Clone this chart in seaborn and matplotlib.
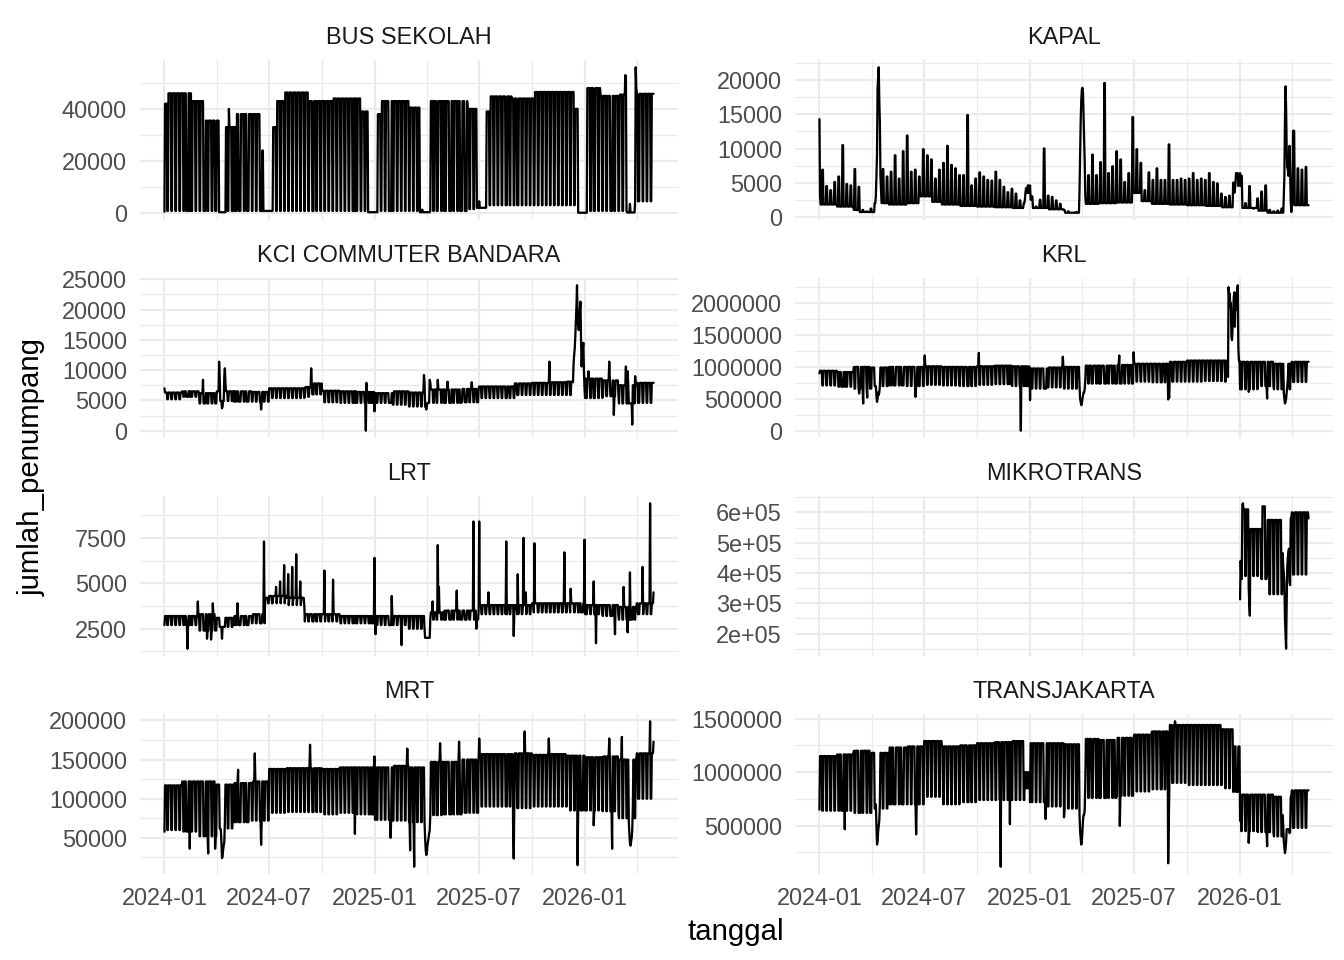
import numpy as np
import pandas as pd
import matplotlib
matplotlib.use("Agg")
import matplotlib.pyplot as plt
import matplotlib.dates as mdates
from matplotlib.ticker import FixedLocator, FuncFormatter, NullFormatter
import seaborn as sns

# ------------------------------------------------------------------ data
START, END = "2024-01-01", "2026-04-30"
MONTHS = ["2024-01", "2024-02", "2024-03", "2024-04", "2024-05", "2024-06", "2024-07",
          "2024-08", "2024-09", "2024-10", "2024-11", "2024-12", "2025-01", "2025-02",
          "2025-03", "2025-04", "2025-05", "2025-06", "2025-07", "2025-08", "2025-09",
          "2025-10", "2025-11", "2025-12", "2026-01", "2026-02", "2026-03", "2026-04"]

HOLIDAYS = [
    "2024-01-01", "2024-02-08", "2024-02-09", "2024-02-14", "2024-03-11", "2024-03-12", "2024-03-29",
    "2024-04-08", "2024-04-09", "2024-04-10", "2024-04-11", "2024-04-12", "2024-04-15", "2024-05-01",
    "2024-05-09", "2024-05-10", "2024-05-23", "2024-05-24", "2024-06-17", "2024-06-18", "2024-09-16",
    "2024-11-27", "2024-12-25", "2024-12-26",
    "2025-01-01", "2025-01-27", "2025-01-28", "2025-01-29", "2025-03-28", "2025-03-31", "2025-04-01",
    "2025-04-02", "2025-04-03", "2025-04-04", "2025-04-07", "2025-04-18", "2025-05-01", "2025-05-12",
    "2025-05-13", "2025-05-29", "2025-05-30", "2025-06-06", "2025-06-09", "2025-06-27", "2025-08-18",
    "2025-09-05", "2025-12-25", "2025-12-26",
    "2026-01-01", "2026-01-16", "2026-02-16", "2026-02-17", "2026-03-18", "2026-03-19", "2026-03-20",
    "2026-03-23", "2026-03-24", "2026-04-03"]

# BUS SEKOLAH: school-term segments (start date, weekday level, weekend level)
bus_seg_start = ["2024-01-01", "2024-01-02", "2024-01-08", "2024-02-17", "2024-03-11", "2024-04-05",
                 "2024-04-17", "2024-05-06", "2024-06-15", "2024-06-21", "2024-07-08", "2024-07-15",
                 "2024-07-29", "2024-09-07", "2024-10-19", "2024-12-07", "2024-12-20", "2025-01-06",
                 "2025-01-13", "2025-03-03", "2025-03-20", "2025-04-07", "2025-06-11", "2025-06-27",
                 "2025-07-14", "2025-07-20", "2025-08-27", "2025-10-05", "2025-12-15", "2025-12-20",
                 "2026-01-05", "2026-01-28", "2026-03-03", "2026-03-15", "2026-03-29"]
bus_wd = [2000, 42000, 46000, 43000, 35500, 300, 33000, 38000, 24000, 800, 33000, 43000,
          46300, 43000, 44000, 39000, 300, 38000, 43000, 40500, 300, 43000, 40000, 2000,
          39000, 44800, 44000, 46500, 40000, 100, 48000, 45000, 45500, 200, 45800]
bus_we = [500, 800, 800, 800, 800, 300, 800, 800, 800, 800, 800, 800,
          800, 800, 800, 800, 300, 800, 800, 800, 300, 800, 1500, 2000,
          3000, 3000, 3000, 3000, 3000, 100, 800, 800, 800, 200, 4500]
bus_events = {"2024-04-22": 40000, "2025-03-24": 1300, "2025-07-01": 4500, "2026-03-12": 53000,
              "2026-03-13": 52500, "2026-03-20": 3500, "2026-03-30": 56000, "2026-03-31": 48000}

# KAPAL: weekday level per month, Saturday/Sunday peaks per week
kapal_wd = [1800, 1500, 1000, 2000, 1800, 2000, 2200, 1800, 1600, 1500, 1400, 1300,
            1300, 1100, 700, 1900, 2000, 2100, 2300, 1900, 1800, 1700, 1600, 1400,
            1300, 900, 700, 1700]
kapal_ranges = [("2024-03-11", "2024-04-07", 700), ("2024-06-22", "2024-07-14", 3000),
                ("2025-03-01", "2025-03-27", 600), ("2025-06-28", "2025-07-13", 3500),
                ("2026-02-18", "2026-03-17", 600)]
kapal_weekend_peaks = [
    6900, 4500, 3900, 5100, 5900, 10500, 4800, 4600, 7000, 4400, 1000, 800, 1200, 2000, 21900,
    7000, 5900, 6600, 9000, 5600, 9600, 11900, 6600, 6900, 5900, 9900, 9000, 8400, 5600, 6900,
    7900, 10400, 7600, 7100, 6100, 6100, 14900, 4600, 5600, 6500, 5900, 5400, 5300, 6600, 5400,
    4400, 3600, 4100, 3400, 2400, 2000, 4600, 3000, 1500, 2500, 10000, 3100, 2900, 2400, 1900,
    1000, 800, 600, 700, 12000, 12000, 6100, 9100, 6100, 8000, 19600, 6400, 7400, 9600, 8400,
    5100, 6400, 14600, 9900, 7900, 3900, 6500, 5400, 7100, 5400, 5400, 10600, 5400, 5400, 5600,
    5400, 5600, 6400, 5400, 5600, 5400, 6400, 5100, 4900, 3400, 2900, 3100, 5000, 6400, 6000,
    2000, 4500, 1200, 2700, 3700, 4600, 1000, 800, 900, 1200, 19100, 10400, 12600, 7100, 6900,
    7300]
kapal_events = {
    "2024-01-01": 14300, "2024-01-02": 3000,
    "2024-04-08": 3000, "2024-04-09": 6000, "2024-04-10": 8900, "2024-04-11": 18900,
    "2024-04-12": 20500, "2024-04-13": 21900, "2024-04-14": 17000, "2024-04-15": 13900,
    "2024-04-16": 6000, "2024-04-17": 3900,
    "2024-12-23": 2500, "2024-12-24": 3500, "2024-12-25": 4200, "2024-12-26": 4000,
    "2024-12-27": 3500, "2024-12-30": 3500, "2024-12-31": 4000, "2025-01-01": 4600,
    "2025-01-02": 2500, "2025-01-03": 2500,
    "2025-03-28": 4000, "2025-03-29": 9000, "2025-03-30": 14000, "2025-03-31": 17000,
    "2025-04-01": 18600, "2025-04-02": 18900, "2025-04-03": 18200, "2025-04-04": 15000,
    "2025-04-05": 12000, "2025-04-06": 8000, "2025-04-07": 3000,
    "2025-12-22": 3500, "2025-12-23": 4000, "2025-12-24": 5000, "2025-12-25": 6400,
    "2025-12-26": 6000, "2025-12-29": 4500, "2025-12-30": 5000, "2025-12-31": 5500,
    "2026-01-01": 6400, "2026-01-02": 4500,
    "2026-03-18": 3000, "2026-03-19": 6000, "2026-03-20": 14000, "2026-03-21": 19100,
    "2026-03-22": 16000, "2026-03-23": 10000, "2026-03-24": 7200, "2026-03-25": 7000,
    "2026-03-26": 6000, "2026-03-27": 8000, "2026-03-28": 10400, "2026-03-29": 7000,
    "2026-03-30": 2500, "2026-04-03": 12600}

# KCI COMMUTER BANDARA
kci_wd = [6300, 6500, 6200, 6500, 6500, 6400, 7000, 7000, 7200, 6600, 6500, 6400,
          6200, 6500, 6300, 6800, 6800, 6900, 7300, 7300, 7800, 7900, 8000, 8100,
          8600, 8300, 7500, 7900]
kci_we = [5200, 5600, 4500, 4900, 4800, 4800, 5400, 5400, 5600, 4700, 4600, 4600,
          4600, 4300, 4000, 4600, 4600, 4700, 5400, 5400, 5900, 5900, 5900, 5900,
          5400, 5700, 4500, 4600]
kci_ranges = [("2024-09-13", "2024-09-30", 7800, 6000)]
kci_events = {
    "2024-01-01": 7000, "2024-03-08": 8400, "2024-04-05": 11400, "2024-04-06": 9000,
    "2024-04-10": 3700, "2024-04-11": 4000, "2024-04-14": 9000, "2024-04-15": 10300,
    "2024-04-16": 8000, "2024-06-17": 3500, "2024-09-12": 10300, "2024-12-16": 0,
    "2024-12-17": 7900, "2024-12-31": 3200, "2025-03-27": 9200, "2025-03-28": 8000,
    "2025-03-31": 3500, "2025-04-01": 4000, "2025-04-06": 8400, "2025-04-07": 8000,
    "2025-04-20": 8400, "2025-05-07": 8100, "2025-06-18": 8000, "2025-10-31": 11400,
    "2025-12-11": 8000, "2025-12-12": 11000, "2025-12-13": 12500, "2025-12-14": 13500,
    "2025-12-15": 15500, "2025-12-16": 18000, "2025-12-17": 20500, "2025-12-18": 24000,
    "2025-12-19": 19000, "2025-12-20": 17500, "2025-12-21": 16600, "2025-12-22": 18000,
    "2025-12-23": 20000, "2025-12-24": 21300, "2025-12-25": 15000, "2025-12-26": 10600,
    "2025-12-27": 12500, "2025-12-28": 13500, "2025-12-29": 14500, "2025-12-30": 10000,
    "2025-12-31": 7000, "2026-01-07": 9800, "2026-02-12": 11400, "2026-02-20": 2600,
    "2026-03-13": 10600, "2026-03-16": 9800, "2026-03-24": 1000, "2026-03-29": 9000}

# KRL
krl_wd = [940000, 920000, 1000000, 990000, 1000000, 1000000, 1010000, 1000000, 1000000,
          1010000, 1020000, 1010000, 975000, 990000, 1000000, 1020000, 1020000, 1030000,
          1050000, 1050000, 1080000, 1100000, 1100000, 1100000, 1080000, 1080000, 1050000,
          1080000]
krl_we = [710000, 690000, 660000, 700000, 710000, 700000, 720000, 710000, 700000,
          720000, 730000, 700000, 660000, 680000, 660000, 740000, 740000, 740000,
          770000, 760000, 770000, 770000, 780000, 770000, 650000, 700000, 650000,
          765000]
krl_events = {
    "2024-01-01": 900000, "2024-03-10": 583000, "2024-03-17": 427000, "2024-03-24": 520000,
    "2024-04-08": 700000, "2024-04-09": 550000, "2024-04-10": 453000, "2024-04-11": 500000,
    "2024-04-12": 600000, "2024-04-13": 560000, "2024-04-14": 600000, "2024-04-15": 700000,
    "2024-06-16": 531000, "2024-07-02": 1180000, "2024-10-04": 1220000, "2024-12-16": 0,
    "2024-12-31": 1000000, "2025-01-01": 480000, "2025-02-27": 1160000,
    "2025-03-28": 700000, "2025-03-29": 500000, "2025-03-30": 450000, "2025-03-31": 400000,
    "2025-04-01": 420000, "2025-04-02": 500000, "2025-04-03": 550000, "2025-04-04": 600000,
    "2025-04-05": 600000, "2025-04-06": 650000, "2025-04-07": 800000,
    "2025-06-05": 1180000, "2025-06-30": 1230000, "2025-08-29": 490000, "2025-08-30": 560000,
    "2025-08-31": 520000, "2025-12-11": 843000,
    "2025-12-12": 2250000, "2025-12-13": 2120000, "2025-12-14": 2150000, "2025-12-15": 1940000,
    "2025-12-16": 2000000, "2025-12-17": 1470000, "2025-12-18": 1420000, "2025-12-19": 1600000,
    "2025-12-20": 1800000, "2025-12-21": 2090000, "2025-12-22": 2170000, "2025-12-23": 1630000,
    "2025-12-24": 2100000, "2025-12-25": 2150000, "2025-12-26": 1900000, "2025-12-27": 2200000,
    "2025-12-28": 2280000, "2025-12-29": 1300000, "2025-12-30": 1100000,
    "2026-01-16": 609000, "2026-02-17": 505000, "2026-03-18": 600000, "2026-03-19": 500000,
    "2026-03-20": 427000, "2026-03-21": 450000, "2026-03-22": 500000, "2026-03-23": 600000,
    "2026-03-24": 700000, "2026-03-25": 800000}

# LRT
lrt_wd = [3200, 3200, 3300, 3100, 3200, 3300, 4300, 4200, 3300, 3300, 3200, 3200,
          3200, 3200, 3200, 3400, 3500, 3500, 3800, 3800, 3800, 3900, 3900, 3900,
          3800, 3800, 3700, 3900]
lrt_we = [2700, 2700, 2400, 2600, 2700, 2800, 3900, 3800, 2900, 2900, 2800, 2800,
          2700, 2700, 2500, 3000, 3000, 3000, 3300, 3300, 3300, 3400, 3400, 3400,
          3300, 3200, 3000, 3300]
lrt_ranges = [("2024-06-24", "2024-06-30", 4200, 3900), ("2025-03-29", "2025-04-06", 2100, 2000)]
lrt_events = {
    "2024-02-10": 1400, "2024-02-28": 4000, "2024-03-15": 1950, "2024-03-22": 1900,
    "2024-03-25": 3900, "2024-04-10": 1950, "2024-05-07": 3900, "2024-06-22": 7300,
    "2024-07-13": 4800, "2024-07-20": 5100, "2024-07-27": 6000, "2024-08-03": 5500,
    "2024-08-10": 5900, "2024-08-17": 6600, "2024-08-24": 5100, "2024-10-05": 5700,
    "2024-10-20": 5200, "2024-12-31": 6400, "2025-01-02": 2200, "2025-01-30": 4300,
    "2025-02-16": 1600, "2025-04-11": 4000, "2025-04-20": 7100, "2025-04-22": 4800,
    "2025-05-23": 4600, "2025-06-21": 8400, "2025-06-26": 2500, "2025-07-01": 8400,
    "2025-07-17": 4500, "2025-08-17": 7300, "2025-08-30": 2100, "2025-09-06": 5500,
    "2025-09-16": 7500, "2025-09-20": 4500, "2025-10-05": 7200, "2025-11-26": 6700,
    "2025-12-07": 4700, "2025-12-31": 7400, "2026-01-16": 5100, "2026-01-20": 1700,
    "2026-02-22": 2200, "2026-03-09": 4800, "2026-03-16": 2300, "2026-03-20": 5600,
    "2026-04-11": 5900, "2026-04-24": 9400, "2026-04-30": 4500}

# MIKROTRANS (data start 2026-01)
mikro_wd = [610000, 600000, 580000, 600000]
mikro_we = [390000, 380000, 330000, 395000]
mikro_ranges = [("2026-01-19", "2026-02-06", 545000, 390000),
                ("2026-02-09", "2026-02-13", 620000, 380000),
                ("2026-02-18", "2026-03-15", 575000, 330000)]
mikro_events = {
    "2026-01-01": 313000, "2026-01-02": 440000, "2026-01-03": 390000, "2026-01-04": 380000,
    "2026-01-05": 625000, "2026-01-06": 630000, "2026-01-16": 350000, "2026-01-17": 300000,
    "2026-01-18": 259000, "2026-02-17": 400000, "2026-03-16": 466000, "2026-03-17": 420000,
    "2026-03-18": 400000, "2026-03-19": 370000, "2026-03-20": 250000, "2026-03-21": 200000,
    "2026-03-22": 150000, "2026-03-23": 300000, "2026-03-24": 420000, "2026-03-25": 450000,
    "2026-03-26": 470000, "2026-03-27": 480000, "2026-03-28": 370000, "2026-03-29": 360000,
    "2026-04-30": 580000}

# MRT
mrt_wd = [117000, 122000, 122000, 118000, 120000, 122000, 138000, 139000, 139000, 138000,
          140000, 140000, 140000, 142000, 140000, 147000, 147000, 150000, 157000, 157000,
          158000, 156000, 157000, 155000, 153000, 154000, 150000, 158000]
mrt_we = [60000, 58000, 52000, 62000, 70000, 72000, 82000, 83000, 83000, 80000,
          82000, 80000, 73000, 72000, 70000, 79000, 80000, 82000, 90000, 90000,
          88000, 90000, 90000, 85000, 85000, 84000, 75000, 100000]
mrt_events = {
    "2024-01-01": 57700, "2024-02-14": 36000, "2024-03-17": 30000, "2024-03-29": 36000,
    "2024-04-08": 60000, "2024-04-09": 45000, "2024-04-10": 24000, "2024-04-11": 26000,
    "2024-04-12": 35000, "2024-04-13": 40000, "2024-04-14": 45000, "2024-04-15": 70000,
    "2024-05-08": 137000, "2024-06-06": 158000, "2024-06-17": 41000, "2024-09-10": 169000,
    "2024-11-27": 55000, "2024-12-31": 154000, "2025-01-28": 50000, "2025-02-26": 164000,
    "2025-03-03": 34000, "2025-03-10": 13000, "2025-03-29": 50000, "2025-03-30": 35000,
    "2025-03-31": 28000, "2025-04-01": 30000, "2025-04-02": 40000, "2025-04-03": 45000,
    "2025-04-04": 50000, "2025-04-05": 55000, "2025-04-06": 60000, "2025-04-24": 171000,
    "2025-05-27": 173000, "2025-07-01": 177000, "2025-08-29": 60000, "2025-08-30": 23500,
    "2025-09-18": 186000, "2025-10-30": 177000, "2025-12-19": 15000, "2026-01-16": 66000,
    "2026-02-12": 177000, "2026-02-17": 36000, "2026-03-06": 179000, "2026-03-18": 70000,
    "2026-03-19": 55000, "2026-03-20": 43000, "2026-03-21": 40000, "2026-03-22": 45000,
    "2026-03-23": 50000, "2026-03-24": 60000, "2026-03-25": 90000, "2026-04-24": 199000,
    "2026-04-30": 173000}

# TRANSJAKARTA
tj_wd = [1150000, 1165000, 1200000, 1180000, 1230000, 1240000, 1290000, 1240000, 1250000,
         1270000, 1280000, 1290000, 1270000, 1270000, 1260000, 1310000, 1300000, 1320000,
         1350000, 1380000, 1440000, 1440000, 1440000, 1400000, 790000, 790000, 770000,
         830000]
tj_we = [640000, 640000, 620000, 660000, 700000, 700000, 770000, 700000, 720000,
         740000, 740000, 740000, 720000, 680000, 660000, 760000, 760000, 780000,
         820000, 840000, 900000, 880000, 880000, 850000, 450000, 440000, 400000,
         480000]
tj_ranges = [("2024-12-23", "2024-12-31", 1000000, 850000),
             ("2025-12-20", "2025-12-31", 1240000, 816000)]
tj_events = {
    "2024-01-01": 650000, "2024-02-14": 467000, "2024-04-08": 700000, "2024-04-09": 500000,
    "2024-04-10": 324000, "2024-04-11": 350000, "2024-04-12": 450000, "2024-04-13": 500000,
    "2024-04-14": 550000, "2024-04-15": 700000, "2024-06-17": 419000, "2024-11-11": 117000,
    "2024-11-27": 514000, "2025-01-28": 562000, "2025-03-01": 578000, "2025-03-28": 600000,
    "2025-03-29": 450000, "2025-03-30": 380000, "2025-03-31": 324000, "2025-04-01": 350000,
    "2025-04-02": 450000, "2025-04-03": 550000, "2025-04-04": 600000, "2025-04-05": 600000,
    "2025-04-06": 650000, "2025-04-07": 900000, "2025-06-06": 498000, "2025-08-29": 149000,
    "2025-08-30": 500000, "2025-09-10": 1475000, "2026-01-01": 546000, "2026-01-16": 340000,
    "2026-02-17": 308000, "2026-03-16": 600000, "2026-03-17": 500000, "2026-03-18": 350000,
    "2026-03-19": 300000, "2026-03-20": 244000, "2026-03-21": 280000, "2026-03-22": 350000,
    "2026-03-23": 467000, "2026-03-24": 467000, "2026-03-25": 467000, "2026-03-26": 467000,
    "2026-03-27": 467000, "2026-03-28": 430000, "2026-03-29": 440000}

MODES = ["BUS SEKOLAH", "KAPAL", "KCI COMMUTER BANDARA", "KRL", "LRT", "MIKROTRANS",
         "MRT", "TRANSJAKARTA"]
Y_BREAKS = {
    "BUS SEKOLAH": [0, 20000, 40000],
    "KAPAL": [0, 5000, 10000, 15000, 20000],
    "KCI COMMUTER BANDARA": [0, 5000, 10000, 15000, 20000, 25000],
    "KRL": [0, 500000, 1000000, 1500000, 2000000],
    "LRT": [2500, 5000, 7500],
    "MIKROTRANS": [200000, 300000, 400000, 500000, 600000],
    "MRT": [50000, 100000, 150000, 200000],
    "TRANSJAKARTA": [500000, 1000000, 1500000],
}
X_MAJOR = ["2024-01-01", "2024-07-01", "2025-01-01", "2025-07-01", "2026-01-01"]
X_MINOR = ["2024-04-01", "2024-10-01", "2025-04-01", "2025-10-01", "2026-04-01"]

# ------------------------------------------------------------ assembly
DATES = pd.date_range(START, END, freq="D")
N = len(DATES)
DAYNUM = np.arange(N)
IS_WE = np.asarray(DATES.dayofweek >= 5)
IS_HOL = np.asarray(DATES.isin(pd.to_datetime(HOLIDAYS)))
MONTH_IDX = np.asarray((DATES.year - 2024) * 12 + DATES.month - 1)


def span(s, e):
    return np.asarray((DATES >= pd.Timestamp(s)) & (DATES <= pd.Timestamp(e)))


def monthly_levels(wd, we, first=0, ranges=()):
    wd_d = np.full(N, np.nan)
    we_d = np.full(N, np.nan)
    m = MONTH_IDX - first
    ok = m >= 0
    wd_d[ok] = np.asarray(wd, float)[m[ok]]
    we_d[ok] = np.asarray(we, float)[m[ok]]
    for s, e, a, b in ranges:
        msk = span(s, e)
        wd_d[msk] = a
        we_d[msk] = b
    return wd_d, we_d


def compose(wd_d, we_d, events, holidays=True):
    off = (IS_WE | IS_HOL) if holidays else IS_WE
    y = np.where(off, we_d, wd_d).astype(float)
    for d, v in events.items():
        y[DATES.get_loc(pd.Timestamp(d))] = v
    return y


series = {}

# bus
bwd = np.full(N, np.nan)
bwe = np.full(N, np.nan)
starts = [pd.Timestamp(s) for s in bus_seg_start] + [DATES[-1] + pd.Timedelta(days=1)]
for i in range(len(bus_seg_start)):
    msk = np.asarray((DATES >= starts[i]) & (DATES < starts[i + 1]))
    bwd[msk] = bus_wd[i]
    bwe[msk] = bus_we[i]
series["BUS SEKOLAH"] = compose(bwd, bwe, bus_events)

# kapal
kwd, _ = monthly_levels(kapal_wd, kapal_wd)
for s, e, a in kapal_ranges:
    kwd[span(s, e)] = a
k_idx = np.clip((DAYNUM - 5) // 7, 0, len(kapal_weekend_peaks) - 1)
kwe = np.asarray(kapal_weekend_peaks, float)[k_idx]
series["KAPAL"] = compose(kwd, kwe, kapal_events, holidays=False)

series["KCI COMMUTER BANDARA"] = compose(*monthly_levels(kci_wd, kci_we, ranges=kci_ranges), kci_events)
series["KRL"] = compose(*monthly_levels(krl_wd, krl_we), krl_events)
series["LRT"] = compose(*monthly_levels(lrt_wd, lrt_we, ranges=lrt_ranges), lrt_events)
series["MIKROTRANS"] = compose(*monthly_levels(mikro_wd, mikro_we, first=24, ranges=mikro_ranges),
                               mikro_events)
series["MRT"] = compose(*monthly_levels(mrt_wd, mrt_we), mrt_events)
series["TRANSJAKARTA"] = compose(*monthly_levels(tj_wd, tj_we, ranges=tj_ranges), tj_events)

# ------------------------------------------------------------ plotting
sns.set_theme(style="white")
plt.rcParams["font.family"] = ["Liberation Sans", "DejaVu Sans"]

W, H = 1344, 960
fig = plt.figure(figsize=(7, 5), dpi=192)
COLS = [(140, 678), (795, 1333)]
TOPS = [60, 278, 496, 714]
PH = 160
GRID = "#EBEBEB"

xmaj = mdates.date2num(pd.to_datetime(X_MAJOR))
xmin_ = mdates.date2num(pd.to_datetime(X_MINOR))
pad_days = pd.Timedelta(days=(DATES[-1] - DATES[0]).days * 0.05)

for i, mode in enumerate(MODES):
    r, c = divmod(i, 2)
    x0, x1 = COLS[c]
    ax = fig.add_axes([x0 / W, 1 - (TOPS[r] + PH) / H, (x1 - x0) / W, PH / H])
    df = pd.DataFrame({"tanggal": DATES, "jumlah_penumpang": series[mode]}).dropna()
    sns.lineplot(data=df, x="tanggal", y="jumlah_penumpang", ax=ax, color="black",
                 linewidth=0.85, estimator=None)

    ax.set_xlim(DATES[0] - pad_days, DATES[-1] + pad_days)
    lo, hi = df["jumlah_penumpang"].min(), df["jumlah_penumpang"].max()
    pad = (hi - lo) * 0.05
    ax.set_ylim(lo - pad, hi + pad)

    majors = Y_BREAKS[mode]
    step = majors[1] - majors[0]
    minors = [v for v in np.arange(majors[0] - step / 2, hi + pad + step, step)
              if lo - pad <= v <= hi + pad]
    ax.yaxis.set_major_locator(FixedLocator(majors))
    ax.yaxis.set_minor_locator(FixedLocator(minors))
    if mode == "MIKROTRANS":
        ax.yaxis.set_major_formatter(FuncFormatter(lambda v, p: f"{v:.0e}"))
    else:
        ax.yaxis.set_major_formatter(FuncFormatter(lambda v, p: f"{int(round(v))}"))
    ax.yaxis.set_minor_formatter(NullFormatter())

    ax.xaxis.set_major_locator(FixedLocator(xmaj))
    ax.xaxis.set_minor_locator(FixedLocator(xmin_))
    ax.xaxis.set_major_formatter(FuncFormatter(lambda v, p: mdates.num2date(v).strftime("%Y-%m")))
    ax.xaxis.set_minor_formatter(NullFormatter())

    ax.grid(which="major", color=GRID, linewidth=0.8)
    ax.grid(which="minor", color=GRID, linewidth=0.45)
    ax.set_axisbelow(True)
    for sp in ax.spines.values():
        sp.set_visible(False)
    ax.tick_params(which="both", length=0, pad=4.9, labelsize=8.8, labelcolor="#4D4D4D")
    if r < 3:
        ax.tick_params(axis="x", labelbottom=False)
    ax.set_xlabel("")
    ax.set_ylabel("")

    fig.text((x0 + x1) / 2 / W, 1 - (TOPS[r] - 22) / H, mode, ha="center", va="center",
             fontsize=8.8, color="#1A1A1A")

fig.text(736 / W, 1 - 932 / H, "tanggal", ha="center", va="center", fontsize=11, color="black")
fig.text(32 / W, 1 - 467 / H, "jumlah_penumpang", ha="center", va="center", rotation=90,
         fontsize=11, color="black")

fig.savefig("out.png", dpi=192)
